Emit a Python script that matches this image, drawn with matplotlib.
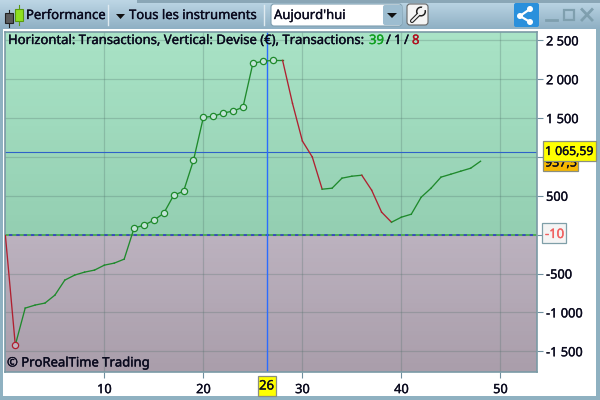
import numpy as np
import matplotlib
matplotlib.use("Agg")
import matplotlib.pyplot as plt
import matplotlib.patheffects as pe
from matplotlib.patches import Rectangle, FancyBboxPatch, Polygon, Circle

plt.rcParams['font.family'] = ['Noto Sans', 'DejaVu Sans']

# cumulative gain, one value per transaction
transactions = list(range(0, 49))
gain = [-10, -1420, -945, -906, -880, -778, -585, -520, -482, -456,
        -392, -366, -315, 84, 122, 186, 276, 507, 559, 957,
        1510, 1523, 1565, 1590, 1640, 2205, 2230, 2243, 2243, 1690,
        1205, 1000, 585, 598, 727, 752, 765, 572, 290, 160,
        225, 263, 482, 598, 740, 778, 817, 855, 945]
marked = [1, 13, 14, 15, 16, 17, 18, 19, 20, 21, 22, 23, 24, 25, 26, 27]

x_ticks = [10, 20, 30, 40, 50]
y_ticks = [2500, 2000, 1500, 1000, 500, 0, -500, -1000, -1500]
y_labels = ["2 500", "2 000", "1 500", "", "500", "", "-500", "-1 000", "-1 500"]
cursor_x = 26.4
cursor_label = "26"
avg_line = 1065.59
avg_label = "1 065,59"
other_label = "937,5"
zero_label = "-10"

GREEN = "#1f8a2c"
RED = "#b02030"
INK = "#0a0a1e"
W, H = 600, 400
FS = 9.4

fig = plt.figure(figsize=(6, 4), dpi=100, facecolor="#ffffff")


def bold(color=INK):
    return [pe.withStroke(linewidth=0.25, foreground=color)]


def label(a, x, y, s, color=INK, ha="left", zorder=10, size=FS):
    a.text(x, y, s, fontsize=size, color=color, ha=ha, va="center", zorder=zorder,
           path_effects=bold(color))


# window chrome, drawn in pixel coordinates
bg = fig.add_axes([0, 0, 1, 1], zorder=0)
bg.axis("off")
bg.add_patch(Rectangle((0, 0), W, H, fc="#8fb1c1", ec="none"))
bg.add_patch(Rectangle((3, 29), 593, 367, fc="#ffffff", ec="none"))
grad = np.linspace(0, 1, 30).reshape(-1, 1)
cm_bar = matplotlib.colors.LinearSegmentedColormap.from_list("bar", ["#bdd6e5", "#8fb0c4"])
bg.imshow(grad, extent=(0, W, 29, 0), cmap=cm_bar, aspect="auto", zorder=1)
bg.add_patch(Rectangle((137, 0), W - 137, 2.5, fc="#8aa6b6", ec="none", zorder=1.2))
bg.set_xlim(0, W)
bg.set_ylim(H, 0)

# toolbar
bg.plot([9, 9], [10, 27], color="#222222", lw=0.8, zorder=1.5)
bg.add_patch(Rectangle((5, 13), 8, 10, fc="#5a5a5a", ec="#222222", lw=0.8, zorder=2))
bg.plot([19, 19], [5, 25], color="#5a9a10", lw=0.8, zorder=1.5)
bg.add_patch(Rectangle((15, 9), 8, 12, fc="#8fe020", ec="#5a9a10", lw=0.8, zorder=2))
label(bg, 26, 15.5, "Performance")
bg.plot([108, 108], [5, 25], color="#dfeaf0", lw=1, zorder=2)
bg.add_patch(Polygon([[116, 14], [125, 14], [120.5, 19]], fc="#101010", ec="none", zorder=3))
label(bg, 129, 15.5, "Tous les instruments")
bg.plot([264, 264], [5, 25], color="#dfeaf0", lw=1, zorder=2)
bg.add_patch(FancyBboxPatch((271, 4), 131, 22, boxstyle="round,pad=0,rounding_size=3",
                            fc="#ffffff", ec="#7f9fb0", lw=0.8, zorder=2))
label(bg, 274, 15.5, "Aujourd'hui")
bg.add_patch(FancyBboxPatch((383, 5), 19, 20, boxstyle="round,pad=0,rounding_size=2",
                            fc="#9dbdd0", ec="none", zorder=3))
bg.add_patch(Polygon([[387, 13], [397, 13], [392, 18]], fc="#101010", ec="none", zorder=4))
# wrench
bg.add_patch(FancyBboxPatch((407, 4), 21, 21, boxstyle="round,pad=0,rounding_size=3",
                            fc="#f4f4f4", ec="#666666", lw=0.8, zorder=3))
bg.plot([412, 420], [21, 13], color="#222222", lw=3.0, zorder=4, solid_capstyle="round")
bg.add_patch(Circle((421, 11.5), 4.3, fc="#f4f4f4", ec="#222222", lw=1.1, zorder=4.5))
bg.plot([412, 420], [21, 13], color="#f4f4f4", lw=1.4, zorder=5, solid_capstyle="round")
bg.add_patch(Polygon([[420, 11.5], [423, 5.5], [427.5, 9.5]], fc="#f4f4f4", ec="none", zorder=5))
# share button
bg.add_patch(FancyBboxPatch((514, 3), 25, 24, boxstyle="round,pad=0,rounding_size=2",
                            fc="#2a90dc", ec="none", zorder=3))
bg.plot([530, 520, 530], [9, 16, 22], color="#ffffff", lw=1.6, zorder=4)
for cx, cy in [(530, 9), (520, 16), (530, 22)]:
    bg.add_patch(Circle((cx, cy), 3, fc="#ffffff", ec="none", zorder=5))
# window buttons
bg.plot([546, 557], [19.5, 19.5], color="#7f9fae", lw=2, zorder=4)
bg.add_patch(Rectangle((564, 10), 10, 10, fc="none", ec="#7f9fae", lw=1.6, zorder=4))
bg.plot([582, 592], [9.5, 20], color="#7f9fae", lw=2, zorder=4)
bg.plot([582, 592], [20, 9.5], color="#7f9fae", lw=2, zorder=4)

# chart
ax = fig.add_axes([5 / W, 1 - 372 / H, 532 / W, 340.5 / H], zorder=2)
xlim = (-0.04, 53.7)
ylim = (-1767, 2614)
cm_up = matplotlib.colors.LinearSegmentedColormap.from_list("up", ["#a9e3c6", "#94cfb2"])
cm_dn = matplotlib.colors.LinearSegmentedColormap.from_list("dn", ["#bcb2bf", "#aa9eab"])
ax.imshow(grad, extent=(xlim[0], xlim[1], -10, ylim[1]), cmap=cm_up, aspect="auto", zorder=0)
ax.imshow(grad, extent=(xlim[0], xlim[1], ylim[0], -10), cmap=cm_dn, aspect="auto", zorder=0)
ax.set_xlim(xlim)
ax.set_ylim(ylim)

ax.grid(True, color="#4f6f6a", alpha=0.28, lw=0.9, zorder=1)
ax.set_axisbelow(True)
ax.set_xticks(x_ticks)
ax.set_yticks(y_ticks)
ax.set_yticklabels(y_labels)
ax.yaxis.tick_right()
ax.tick_params(axis="both", length=4, width=0.8, color="#6f8f9f", labelsize=9.2,
               labelcolor=INK, pad=2.5)
ax.tick_params(axis="x", pad=4)
for t in ax.get_xticklabels() + ax.get_yticklabels():
    t.set_path_effects(bold())
for s in ax.spines.values():
    s.set_color("#7a9aa5")
    s.set_linewidth(1.2)

# zero line
ax.axhline(-10, color="#2030c0", lw=1.1, zorder=2)
ax.axhline(-10, color="#58c838", lw=1.1, ls=(0, (2.6, 2.2)), zorder=2.1)
ax.axhline(avg_line, color="#2f62c8", lw=0.8, zorder=2)
ax.axvline(cursor_x, color="#2a6cff", lw=1.0, zorder=2)

# line is green on the way up, red on the way down
for i in range(len(gain) - 1):
    c = GREEN if gain[i + 1] >= gain[i] else RED
    ax.plot(transactions[i:i + 2], gain[i:i + 2], color=c, lw=0.95, zorder=3)
for i in marked:
    c = RED if i == 1 else GREEN
    ax.plot(transactions[i], gain[i], "o", ms=4.5, mfc="#c4e4d8" if i != 1 else "#c0b4c0",
            mec=c, mew=0.9, zorder=4)

# text over the chart, pixel coordinates again
fg = fig.add_axes([0, 0, 1, 1], zorder=5)
fg.patch.set_alpha(0)
fg.axis("off")
fg.set_xlim(0, W)
fg.set_ylim(H, 0)

label(fg, 8, 40.5, "Horizontal: Transactions, Vertical: Devise (€), Transactions:")
label(fg, 369, 40.5, "39", color="#10a020")
label(fg, 386, 40.5, "/")
label(fg, 394, 40.5, "1")
label(fg, 404, 40.5, "/")
label(fg, 412, 40.5, "8", color="#b01020")
label(fg, 7, 363, "© ProRealTime Trading")

# value boxes on the right
fg.add_patch(Rectangle((543, 155), 35, 16, fc="#f7b800", ec="#8a8f80", lw=0.9, zorder=6))
label(fg, 545, 163, other_label, zorder=6.5, size=9)
fg.add_patch(Rectangle((543, 141), 53, 20, fc="#ffff00", ec="#8a8f80", lw=0.9, zorder=7))
label(fg, 545, 151.5, avg_label, zorder=7.5, size=8.8)
fg.add_patch(Rectangle((542, 223), 24, 20, fc="#f4f4f4", ec="#7f9fa8", lw=0.9, zorder=6))
label(fg, 545, 234.5, zero_label, color="#f06060", zorder=6.5)
fg.add_patch(Rectangle((257.5, 375.5), 18, 20, fc="#ffff00", ec="#8a8f80", lw=0.9, zorder=7))
label(fg, 266.5, 386, cursor_label, ha="center", zorder=7.5)

plt.savefig("out.png", dpi=100)
